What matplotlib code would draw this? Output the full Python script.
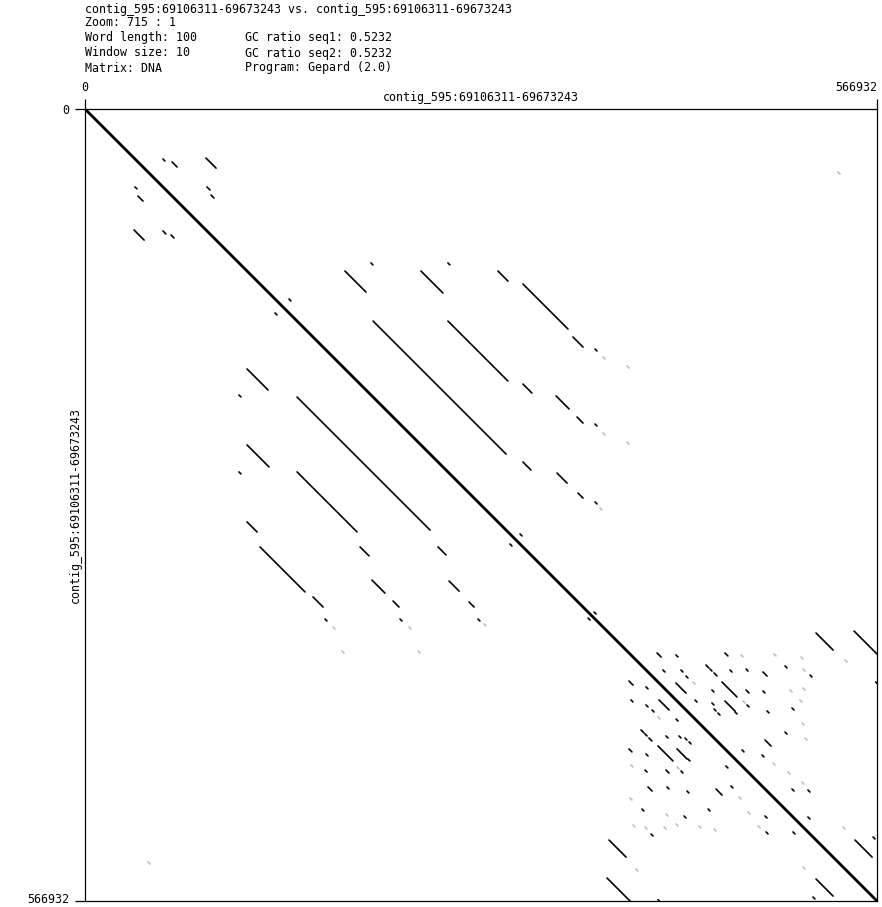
import matplotlib
matplotlib.use('Agg')
import matplotlib.pyplot as plt
from matplotlib.transforms import offset_copy

# Sequence info (self comparison, dotplot from Gepard)
seq_name = 'contig_595:69106311-69673243'
seq_len = 566932
header_left = [f'{seq_name} vs. {seq_name}', 'Zoom: 715 : 1', 'Word length: 100',
               'Window size: 10', 'Matrix: DNA']
header_right = ['GC ratio seq1: 0.5232', 'GC ratio seq2: 0.5232', 'Program: Gepard (2.0)']

# Repeat matches above the main diagonal, in kb: start in seq1, start in seq2, length.
# The plot is symmetric, so each one is also drawn mirrored.
match_x = [55.8, 62.3, 86.6, 87.3, 90.2, 146.0, 204.7, 259.8, 186.1, 240.5,
           295.6, 313.5, 349.3, 365.1, 259.8, 206.2, 313.5, 337.2, 352.2, 365.1,
           313.5, 337.9, 352.9, 365.1, 311.4, 364.4,
           409.5, 423.0, 413.7, 426.6, 430.2, 458.1, 444.5, 447.4, 450.3, 461.7,
           473.2, 485.3, 501.1, 519.0, 423.0, 448.8, 456.0, 473.2, 436.7, 448.8,
           450.3, 458.1, 473.9, 488.2, 506.1, 453.1, 465.3, 501.1, 486.8, 470.3,
           484.6, 506.1, 517.5, 517.5, 485.3, 523.3, 550.5, 566.0, 551.2, 564.1]
match_y = [35.8, 37.9, 35.1, 55.8, 61.6, 136.0, 110.2, 110.2, 116.0, 116.0,
           116.0, 125.3, 163.2, 171.8, 151.8, 151.8, 196.9, 205.4, 220.5, 225.5,
           252.7, 260.6, 274.9, 281.3, 304.2, 360.1,
           389.4, 390.8, 401.6, 401.6, 405.9, 389.4, 398.0, 400.9, 403.7, 401.6,
           400.9, 403.0, 398.7, 405.2, 410.9, 415.9, 410.2, 415.9, 423.1, 425.2,
           429.5, 423.8, 426.6, 430.9, 428.8, 432.4, 431.6, 446.0, 451.7, 458.8,
           462.4, 486.8, 487.5, 506.8, 416.6, 375.1, 373.7, 410.2, 523.3, 521.1]
match_len = [1.4, 3.6, 7.2, 2.1, 2.1, 1.4, 1.4, 1.4, 15.0, 15.7,
             7.2, 32.2, 7.2, 1.4, 42.9, 95.2, 6.4, 9.3, 4.3, 1.4,
             5.7, 7.2, 3.6, 1.4, 1.4, 1.4,
             2.9, 1.4, 1.4, 1.4, 1.4, 2.1, 2.1, 1.4, 2.1, 1.4,
             1.4, 2.9, 1.4, 1.4, 7.2, 1.4, 10.7, 2.1, 1.4, 1.4,
             1.4, 7.2, 1.4, 1.4, 1.4, 1.4, 1.4, 1.4, 4.3, 1.4,
             1.4, 1.4, 1.4, 1.4, 1.4, 12.2, 16.5, 0.9, 12.2, 1.4]

# Weak (grey) matches, kb
weak_x = [539.0, 370.8, 388.0, 370.8, 388.0, 368.6, 469.6, 493.2, 512.5, 514.0,
          544.0, 435.2, 504.7, 514.0, 471.0, 511.8, 513.2, 515.4, 492.5, 503.2,
          513.2, 542.6]
weak_y = [45.1, 177.5, 184.0, 231.9, 238.4, 285.6, 390.8, 390.1, 392.3, 400.9,
          394.4, 410.2, 415.9, 414.5, 423.8, 423.1, 439.5, 450.3, 468.2, 474.6,
          481.8, 514.0]
weak_len = 1.4

W, H = 882, 907
fig = plt.figure(figsize=(W / 100, H / 100), dpi=100)
ax = fig.add_axes([85 / W, 6 / H, 792 / W, 792 / H])

mono = 'DejaVu Sans Mono'
fs = 8.4

# main diagonal
ax.plot([0, seq_len], [0, seq_len], color='black', lw=2.0, solid_capstyle='butt')

for x, y in zip(weak_x, weak_y):
    for a, b in ((x, y), (y, x)):
        ax.plot([a * 1000, (a + weak_len) * 1000], [b * 1000, (b + weak_len) * 1000],
                color='#bdbdbd', lw=1.2, solid_capstyle='round')

for x, y, n in zip(match_x, match_y, match_len):
    for a, b in ((x, y), (y, x)):
        ax.plot([a * 1000, (a + n) * 1000], [b * 1000, (b + n) * 1000],
                color='black', lw=1.2, solid_capstyle='round')

ax.set_xlim(0, seq_len)
ax.set_ylim(seq_len, 0)
for sp in ax.spines.values():
    sp.set_linewidth(0.9)

ax.xaxis.tick_top()
ax.set_xticks([0, seq_len])
ax.set_xticklabels(['0', str(seq_len)], fontfamily=mono, fontsize=fs)
ax.get_xticklabels()[1].set_ha('right')
ax.set_yticks([0, seq_len])
ax.set_yticklabels(['0', str(seq_len)], fontfamily=mono, fontsize=fs)
ax.tick_params(direction='out', length=7, width=0.9, pad=4)
# keep the bottom label inside the picture
last = ax.get_yticklabels()[1]
last.set_transform(offset_copy(last.get_transform(), fig=fig, x=0, y=3, units='dots'))

# header block
rows = [9, 23, 38, 53, 68]
for t, r in zip(header_left, rows):
    fig.text(85 / W, 1 - r / H, t, fontfamily=mono, fontsize=fs, va='center', ha='left')
for t, r in zip(header_right, rows[2:]):
    fig.text(245 / W, 1 - r / H, t, fontfamily=mono, fontsize=fs, va='center', ha='left')

# axis names
fig.text(481 / W, 1 - 98 / H, seq_name, fontfamily=mono, fontsize=fs, va='center', ha='center')
fig.text(75 / W, 1 - 505 / H, seq_name, fontfamily=mono, fontsize=fs, va='center',
         ha='center', rotation=90)

fig.savefig('out.png', dpi=100, facecolor='white')
